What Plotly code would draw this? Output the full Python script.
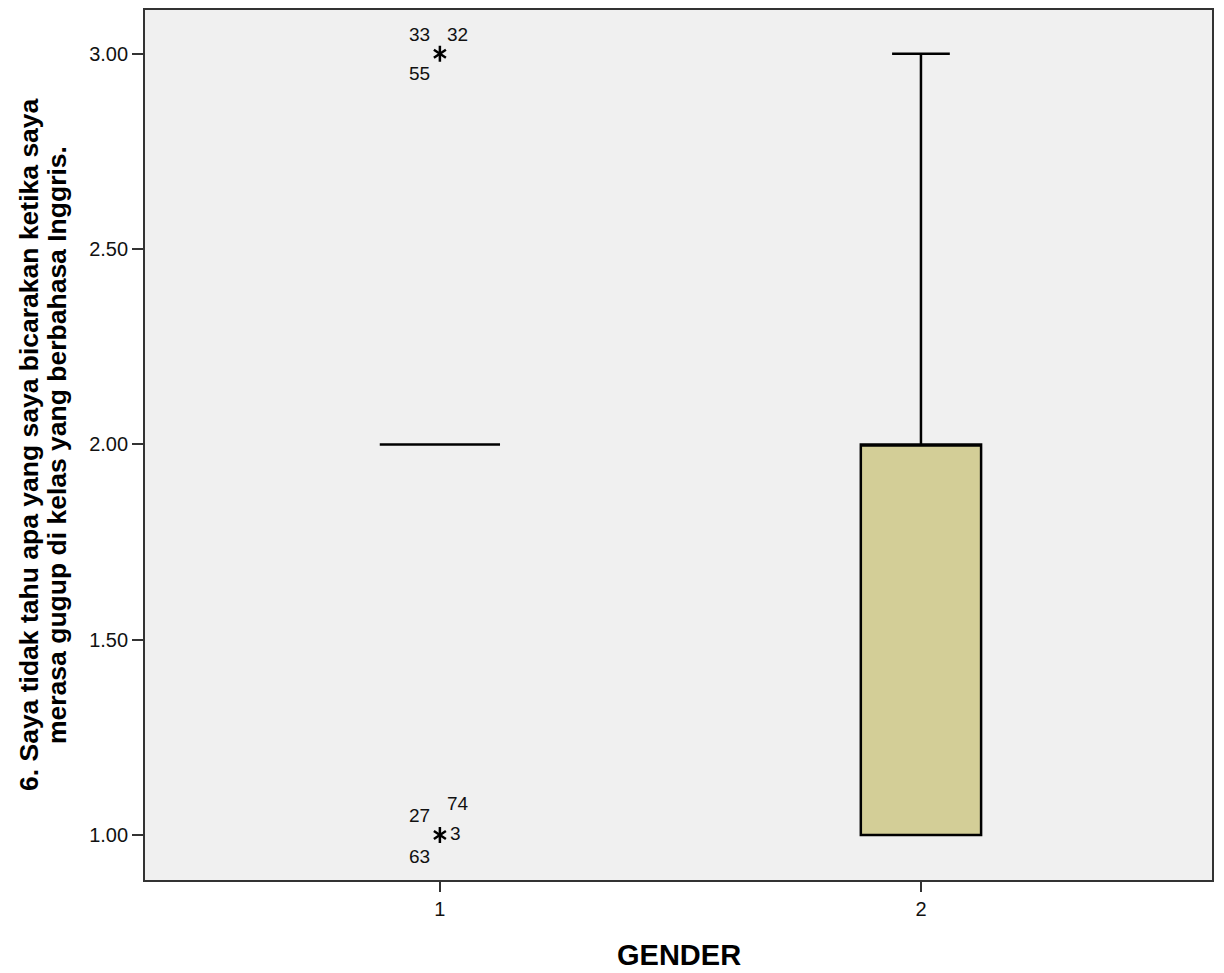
import plotly.graph_objects as go

# Data
groups = [1, 2]
q1 = [2.0, 1.0]
median = [2.0, 2.0]
q3 = [2.0, 2.0]
lower_fence = [2.0, 1.0]
upper_fence = [2.0, 3.0]

outlier_x = [1, 1]
outlier_y = [3.0, 1.0]

# outlier case labels
label_groups = [1, 1, 1, 1, 1, 1, 1]
label_values = [3.0, 3.0, 3.0, 1.0, 1.0, 1.0, 1.0]
label_texts = ["33", "32", "55", "27", "74", "3", "63"]
label_dx = [-20, 18, -20, -20, 18, 16, -20]
label_dy = [19, 19, -20, 20, 32, 2, -21]

y_ticks = [1.0, 1.5, 2.0, 2.5, 3.0]
y_ticktext = ["1.00", "1.50", "2.00", "2.50", "3.00"]
x_ticktext = ["1", "2"]

x_title = "GENDER"
y_title_lines = ["6. Saya tidak tahu apa yang saya bicarakan ketika saya",
                 "merasa gugup di kelas yang berbahasa Inggris."]

FONT = "Arial, Liberation Sans, sans-serif"

fig = go.Figure()
fig.add_trace(go.Box(
    x=groups, q1=q1, median=median, q3=q3,
    lowerfence=lower_fence, upperfence=upper_fence,
    width=0.25, whiskerwidth=0.48,
    fillcolor="#D3CE97",
    line=dict(color="#000000", width=2.5),
    boxpoints=False, hoverinfo="skip", showlegend=False,
))
for sym in ["y-up-open", "y-down-open"]:
    fig.add_trace(go.Scatter(
        x=outlier_x, y=outlier_y, mode="markers",
        marker=dict(symbol=sym, size=10, color="#000000",
                    line=dict(color="#000000", width=2.5)),
        showlegend=False, hoverinfo="skip",
    ))

for g, v, t, dx, dy in zip(label_groups, label_values, label_texts, label_dx, label_dy):
    fig.add_annotation(x=g, y=v, text=t, showarrow=False,
                       xshift=dx, yshift=dy,
                       font=dict(family=FONT, size=19, color="#111111"))

# axis titles
fig.add_annotation(xref="paper", yref="paper", x=0.5, y=0, text="<b>%s</b>" % x_title,
                   showarrow=False, xanchor="center", yanchor="middle", yshift=-75,
                   font=dict(family=FONT, size=29, color="#000000"))
for i, line in enumerate(y_title_lines):
    fig.add_annotation(xref="paper", yref="paper", x=0, y=0.5, text="<b>%s</b>" % line,
                       showarrow=False, textangle=-90, xanchor="center", yanchor="middle",
                       xshift=-116 + 28 * i,
                       font=dict(family=FONT, size=26.5, color="#000000"))

fig.update_layout(
    width=1216, height=965,
    margin=dict(l=137, r=12, t=0, b=93),
    paper_bgcolor="#FFFFFF",
    plot_bgcolor="#F0F0F0",
    font=dict(family=FONT, size=20, color="#111111"),
    xaxis=dict(
        range=[0.387, 2.605],
        tickvals=groups, ticktext=x_ticktext,
        ticks="outside", ticklen=10, tickwidth=1.8, tickcolor="#333333",
        showgrid=False, zeroline=False,
        showline=True, mirror=True, linecolor="#333333", linewidth=1.8,
        tickfont=dict(size=20),
    ),
    yaxis=dict(
        range=[0.885, 3.112],
        tickvals=y_ticks, ticktext=y_ticktext,
        ticks="outside", ticklen=11, tickwidth=1.8, tickcolor="#333333",
        showgrid=False, zeroline=False,
        showline=True, mirror=True, linecolor="#333333", linewidth=1.8,
        tickfont=dict(size=20),
    ),
)

fig.write_html("out.html")
